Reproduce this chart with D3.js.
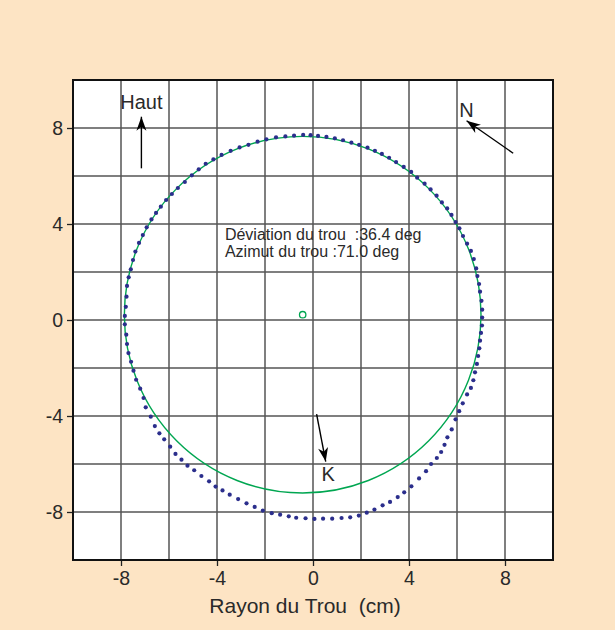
<!DOCTYPE html>
<html>
<head>
<meta charset="utf-8">
<script src="https://cdn.jsdelivr.net/npm/d3@7/dist/d3.min.js"></script>
<style>
  html, body { margin: 0; padding: 0; background: #fde4c4; }
  svg { display: block; }
  text { font-family: "Liberation Sans", Arial, sans-serif; fill: #2a2a2a; }
</style>
</head>
<body>
<svg id="chart" width="615" height="630"></svg>
<script>
// Measured hole profile (cm): caliper readings, x/y relative to tool axis
const profile = [
  [-7.84,-0.18],[-7.84,0.17],[-7.80,0.55],[-7.77,0.97],[-7.75,1.42],[-7.68,1.78],[-7.59,2.11],[-7.50,2.50],
  [-7.40,2.85],[-7.25,3.21],[-7.09,3.54],[-6.93,3.86],[-6.73,4.19],[-6.54,4.46],[-6.34,4.72],[-6.12,5.00],
  [-5.88,5.25],[-5.63,5.50],[-5.34,5.75],[-5.05,6.03],[-4.76,6.28],[-4.47,6.51],[-4.15,6.69],[-3.81,6.88],
  [-3.43,7.05],[-3.06,7.19],[-2.69,7.30],[-2.31,7.43],[-1.94,7.53],[-1.54,7.61],[-1.15,7.65],[-0.79,7.68],
  [-0.41,7.71],
  [-0.10,7.70],[0.21,7.67],[0.56,7.63],[0.91,7.57],[1.25,7.49],[1.60,7.39],[1.92,7.30],[2.27,7.18],
  [2.58,7.05],[2.87,6.92],[3.17,6.76],[3.46,6.58],[3.78,6.38],[4.09,6.17],[4.34,5.93],[4.65,5.68],
  [4.90,5.44],[5.15,5.18],[5.37,4.90],[5.59,4.65],[5.77,4.38],[5.94,4.08],[6.10,3.82],[6.25,3.50],
  [6.42,3.18],[6.58,2.88],[6.70,2.54],[6.80,2.15],[6.85,1.83],[6.92,1.50],[6.96,1.18],[7.02,0.80],
  [7.05,0.43],[7.05,0.10],
  [7.04,-0.23],[7.00,-0.54],[6.96,-0.86],[6.93,-1.18],[6.88,-1.50],[6.83,-1.83],[6.75,-2.18],[6.68,-2.51],
  [6.58,-2.83],[6.42,-3.10],[6.24,-3.47],[6.09,-3.80],[5.94,-4.14],[5.78,-4.56],[5.60,-4.89],[5.48,-5.20],
  [5.34,-5.50],[5.16,-5.75],[4.92,-6.00],[4.71,-6.30],[4.42,-6.60],[4.10,-6.93],[3.80,-7.18],[3.53,-7.38],
  [3.21,-7.58],[2.90,-7.72],[2.56,-7.90],[2.24,-8.03],[1.91,-8.15],[1.55,-8.22],[1.19,-8.25],[0.80,-8.28],
  [0.42,-8.28],[0.06,-8.29],
  [-0.31,-8.26],[-0.70,-8.24],[-1.01,-8.18],[-1.37,-8.11],[-1.72,-8.05],[-2.09,-7.94],[-2.43,-7.79],
  [-2.77,-7.64],[-3.12,-7.46],[-3.47,-7.28],[-3.77,-7.10],[-4.06,-6.94],[-4.33,-6.72],[-4.65,-6.50],
  [-4.95,-6.26],[-5.23,-6.07],[-5.48,-5.82],[-5.73,-5.58],[-5.95,-5.28],[-6.20,-4.97],[-6.40,-4.72],
  [-6.59,-4.42],[-6.76,-4.03],[-6.97,-3.64],[-7.06,-3.25],[-7.20,-2.86],[-7.37,-2.49],[-7.48,-2.11],
  [-7.58,-1.74],[-7.69,-1.38],[-7.75,-1.00],[-7.78,-0.61]
];

// Nominal (fitted) hole circle: centre and radius, cm
const fitCenter = [-0.43, 0.22];
const fitRadius = 7.43;

// Axis extent, ticks and grid
const domain = [-10, 10];
const tickValues = [-8, -4, 0, 4, 8];
const gridValues = [-8, -6, -4, -2, 0, 2, 4, 6, 8];
const xTitle = "Rayon du Trou\u00a0 (cm)";

// Orientation arrows: tail, tip, label position and label anchor (cm)
const arrows = [
  { name: "Haut", from: [-7.15, 6.32], to: [-7.15, 8.47], label: [-7.15, 8.79], anchor: "middle" },
  { name: "N",    from: [8.34, 6.95],  to: [6.40, 8.30],  label: [6.09, 8.47],  anchor: "start" },
  { name: "K",    from: [0.15, -3.92], to: [0.53, -5.90], label: [0.35, -6.70], anchor: "start" }
];

// Survey annotation
const infoLines = ["D\u00e9viation du trou\u00a0 :36.4 deg", "Azimut du trou :71.0 deg"];
const infoAnchor = [-3.67, 3.33];

const svg = d3.select("#chart");
const x = d3.scaleLinear().domain(domain).range([73, 553]);
const y = d3.scaleLinear().domain(domain).range([560, 80]);

// Plot background
svg.append("rect")
  .attr("x", x(domain[0])).attr("y", y(domain[1]))
  .attr("width", x(domain[1]) - x(domain[0]))
  .attr("height", y(domain[0]) - y(domain[1]))
  .attr("fill", "#fff");

// Grid
const grid = svg.append("g").attr("stroke", "#555").attr("stroke-width", 1.5);
grid.selectAll("line.v").data(gridValues).join("line")
  .attr("class", "v")
  .attr("x1", d => x(d)).attr("x2", d => x(d))
  .attr("y1", y(domain[0])).attr("y2", y(domain[1]));
grid.selectAll("line.h").data(gridValues).join("line")
  .attr("class", "h")
  .attr("y1", d => y(d)).attr("y2", d => y(d))
  .attr("x1", x(domain[0])).attr("x2", x(domain[1]));

// Axes (plain hyphen for negative labels)
const fmt = d => String(d);
const xAxis = svg.append("g")
  .attr("transform", `translate(0,${y(domain[0])})`)
  .call(d3.axisBottom(x).tickValues(tickValues).tickSize(6).tickPadding(5).tickFormat(fmt));
const yAxis = svg.append("g")
  .attr("transform", `translate(${x(domain[0])},0)`)
  .call(d3.axisLeft(y).tickValues(tickValues).tickSize(6).tickPadding(4).tickFormat(fmt));
[xAxis, yAxis].forEach(g => {
  g.select(".domain").remove();
  g.selectAll(".tick line").attr("stroke", "#222").attr("stroke-width", 1.3);
  g.selectAll(".tick text")
    .attr("font-family", "'Liberation Sans', Arial, sans-serif")
    .attr("font-size", 19.5).attr("fill", "#2a2a2a");
});

// Plot frame
svg.append("rect")
  .attr("x", x(domain[0])).attr("y", y(domain[1]))
  .attr("width", x(domain[1]) - x(domain[0]))
  .attr("height", y(domain[0]) - y(domain[1]))
  .attr("fill", "none").attr("stroke", "#111").attr("stroke-width", 2);

// Axis title
svg.append("text")
  .attr("x", 305).attr("y", 612.5)
  .attr("text-anchor", "middle").attr("font-size", 21)
  .text(xTitle);

// Fitted circle and its centre
const green = "#00a651";
svg.append("circle")
  .attr("cx", x(fitCenter[0])).attr("cy", y(fitCenter[1]))
  .attr("r", x(fitRadius) - x(0))
  .attr("fill", "none").attr("stroke", green).attr("stroke-width", 1.4);
svg.append("circle")
  .attr("cx", x(fitCenter[0])).attr("cy", y(fitCenter[1]))
  .attr("r", 3.2)
  .attr("fill", "none").attr("stroke", green).attr("stroke-width", 1.3);

// Measured profile points
svg.append("g").attr("fill", "#2b2e8c")
  .selectAll("circle").data(profile).join("circle")
  .attr("cx", d => x(d[0])).attr("cy", d => y(d[1]))
  .attr("r", 2.1);

// Arrow heads
svg.append("defs").append("marker")
  .attr("id", "head")
  .attr("markerUnits", "userSpaceOnUse")
  .attr("viewBox", "-15 -6 16 12")
  .attr("refX", 0).attr("refY", 0)
  .attr("markerWidth", 16).attr("markerHeight", 12)
  .attr("orient", "auto")
  .append("path")
  .attr("d", "M0,0 L-14,-5 L-10,0 L-14,5 Z")
  .attr("fill", "#000");

const arrowG = svg.append("g");
arrows.forEach(a => {
  arrowG.append("line")
    .attr("x1", x(a.from[0])).attr("y1", y(a.from[1]))
    .attr("x2", x(a.to[0])).attr("y2", y(a.to[1]))
    .attr("stroke", "#000").attr("stroke-width", 1.4)
    .attr("marker-end", "url(#head)");
  arrowG.append("text")
    .attr("x", x(a.label[0])).attr("y", y(a.label[1]))
    .attr("text-anchor", a.anchor).attr("font-size", 20)
    .text(a.name);
});

// Survey annotation text
svg.append("g").selectAll("text").data(infoLines).join("text")
  .attr("x", x(infoAnchor[0]))
  .attr("y", (d, i) => y(infoAnchor[1]) + i * 17)
  .attr("font-size", 16)
  .text(d => d);
</script>
</body>
</html>
